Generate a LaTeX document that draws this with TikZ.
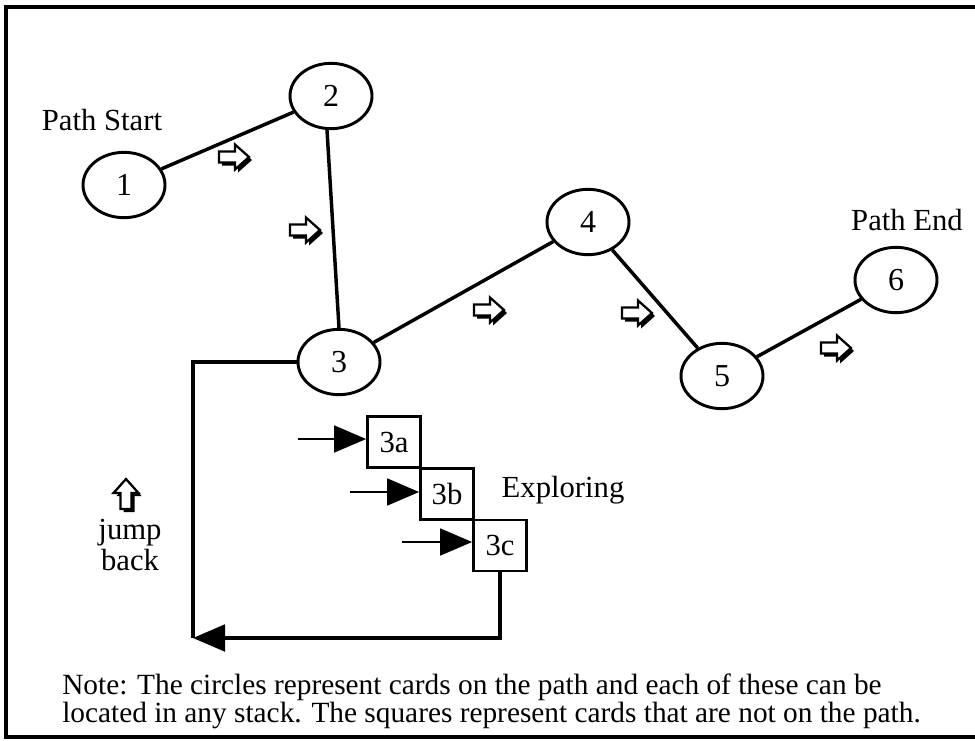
\documentclass[tikz,border=0pt]{standalone}
\usepackage{fontspec}
\setmainfont{Liberation Serif}
\usetikzlibrary{shapes.geometric,arrows.meta}

% outline of a small block arrow pointing along +x
\newcommand\arrowoutline{(-15,-5.5) -- (1,-5.5) -- (1,-12.5) -- (15,0) -- (1,12.5) -- (1,5.5) -- (-15,5.5) -- cycle}
% hollow block arrow with a drop shadow: #1 = position, #2 = angle
\newcommand\hollowarrow[2]{%
  \begin{scope}[shift={#1}, shift={(3,3)}, rotate=#2]
    \fill[black] \arrowoutline;
  \end{scope}
  \begin{scope}[shift={#1}, rotate=#2]
    \filldraw[fill=white, draw=black, line width=1.7pt, line join=miter] \arrowoutline;
  \end{scope}}

\tikzset{
  card/.style={ellipse, draw, line width=2.2pt, minimum width=61.5pt,
    minimum height=49pt, inner sep=0pt, font=\fontsize{24}{26}\selectfont},
  offcard/.style={rectangle, draw, line width=2pt, minimum width=39.75pt,
    minimum height=38.25pt, inner sep=0pt, font=\fontsize{23}{26}\selectfont},
  link/.style={line width=2.6pt},
  feed/.style={line width=2pt, -{Triangle[length=24pt,width=20pt]}},
  label/.style={font=\fontsize{23}{26}\selectfont, inner sep=0pt},
}

\begin{document}
\begin{tikzpicture}[x=0.75pt, y=-0.75pt]
  \useasboundingbox (0,0) rectangle (975,740);
  \fill[white] (0,0) rectangle (975,740);

  % frame (open on the right)
  \draw[line width=2.4pt] (975,7) -- (6,7) -- (6,737) -- (975,737);

  % cards on the path
  \node[card] (n1) at (124,185) {1};
  \node[card] (n2) at (331,96) {2};
  \node[card] (n3) at (339,362) {3};
  \node[card] (n4) at (588,222) {4};
  \node[card] (n5) at (722,376) {5};
  \node[card] (n6) at (896,280) {6};

  \coordinate (s2) at ([xshift=-3pt]n2.south);
  \draw[link] (n1) -- (n2);
  \draw[link] (s2) -- (n3.north);
  \draw[link] (n3) -- (n4);
  \draw[link] (n4) -- (n5);
  \draw[link] (n5) -- (n6);

  % direction markers
  \hollowarrow{(234,157)}{0}
  \hollowarrow{(305,230)}{0}
  \hollowarrow{(489,310)}{0}
  \hollowarrow{(637,313)}{0}
  \hollowarrow{(836,348)}{0}
  \hollowarrow{(126,494)}{90}

  \node[label] (start) at (102,120) {Path Start};
  \node[label] (end) at (907,220) {Path End};

  % cards off the path
  \node[offcard] (a) at (394,442) {3a};
  \node[offcard] (b) at (447,494) {3b};
  \node[offcard] (c) at (500,545.5) {3c};

  \coordinate (ina) at (298,439);
  \coordinate (inb) at (350,492);
  \coordinate (inc) at (402,542);
  \draw[feed] (ina) -- (ina -| a.west);
  \draw[feed] (inb) -- (inb -| b.west);
  \draw[feed] (inc) -- (inc -| c.west);

  \node[label] (explore) at (563,490) {Exploring};

  % jump back loop
  \coordinate (corner) at (193,638);
  \draw[line width=2.3pt] (n3.west) -| (corner);
  \draw[feed, line width=2.3pt] (c.south) |- (corner);

  \node[label, align=center, font=\fontsize{23}{23}\selectfont] (jump) at (130,545) {jump\\back};

  % note
  \node[label, anchor=north west, align=left, font=\fontsize{22}{20.5}\selectfont] (note) at (62,674)
    {Note: The circles represent cards on the path and each of these can be\\
     located in any stack. The squares represent cards that are not on the path.};
\end{tikzpicture}
\end{document}
